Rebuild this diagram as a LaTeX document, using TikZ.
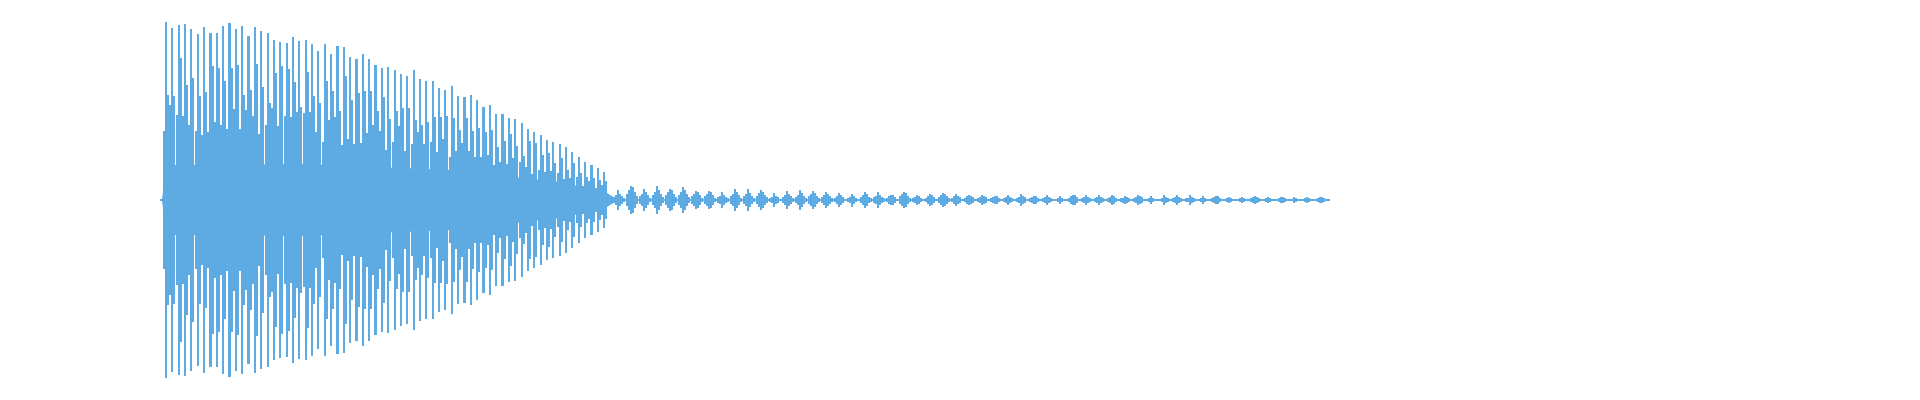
\documentclass[tikz,border=0pt]{standalone}
\definecolor{wave}{RGB}{93,171,226}
\begin{document}
\begin{tikzpicture}[x=0.01cm,y=-0.01cm,wv/.style={draw=wave,line width=0.6pt}]
\useasboundingbox (0,0) rectangle (1920,400);
\pgfmathsetseed{7}
% dense core
\fill[wave] (162,200) -- (166,165) -- (300,164) -- (450,170) -- (560,182) -- (605,192) -- (615,198) -- (615,202) -- (605,208) -- (560,218) -- (450,230) -- (300,236) -- (166,235) -- cycle;
\draw[wave,line width=0.5pt] (160,200) -- (1330,200);
% main pulses
\foreach \i in {0,...,69}{
  \pgfmathsetmacro{\x}{166+6.35*\i}
  \pgfmathsetmacro{\t}{(\x-166)/460}
  \pgfmathsetmacro{\A}{168*(1-\t*\t)+12}
  \pgfmathsetmacro{\a}{\A*(0.92+0.08*rnd)}
  \pgfmathsetmacro{\b}{\A*(0.55+0.25*rnd)}
  \pgfmathsetmacro{\c}{\A*(0.35+0.2*rnd)}
  \draw[wv] (\x,200-\a) -- (\x,200+\a);
  \draw[wv] (\x+2,200-\b) -- (\x+2,200+\b);
  \draw[wv] (\x-2,200-\c) -- (\x-2,200+\c);
}
% tail bursts
\foreach \i in {0,...,54}{
  \pgfmathsetmacro{\x}{618+13*\i}
  \pgfmathsetmacro{\B}{(2+14*exp(-(\x-618)/350))*(0.6+0.4*rnd)}
  \pgfmathsetmacro{\d}{\B*(0.6+0.3*rnd)}
  \draw[wv] (\x,200-\B) -- (\x,200+\B);
  \draw[wv] (\x+2,200-\d) -- (\x+2,200+\d);
  \draw[wv] (\x-2,200-\d*0.8) -- (\x-2,200+\d*0.8);
  \draw[wv] (\x+4,200-\d*0.6) -- (\x+4,200+\d*0.6);
  \draw[wv] (\x-4,200-\d*0.5) -- (\x-4,200+\d*0.5);
  \draw[wv] (\x+6,200-\d*0.3) -- (\x+6,200+\d*0.3);
}
\end{tikzpicture}
\end{document}
